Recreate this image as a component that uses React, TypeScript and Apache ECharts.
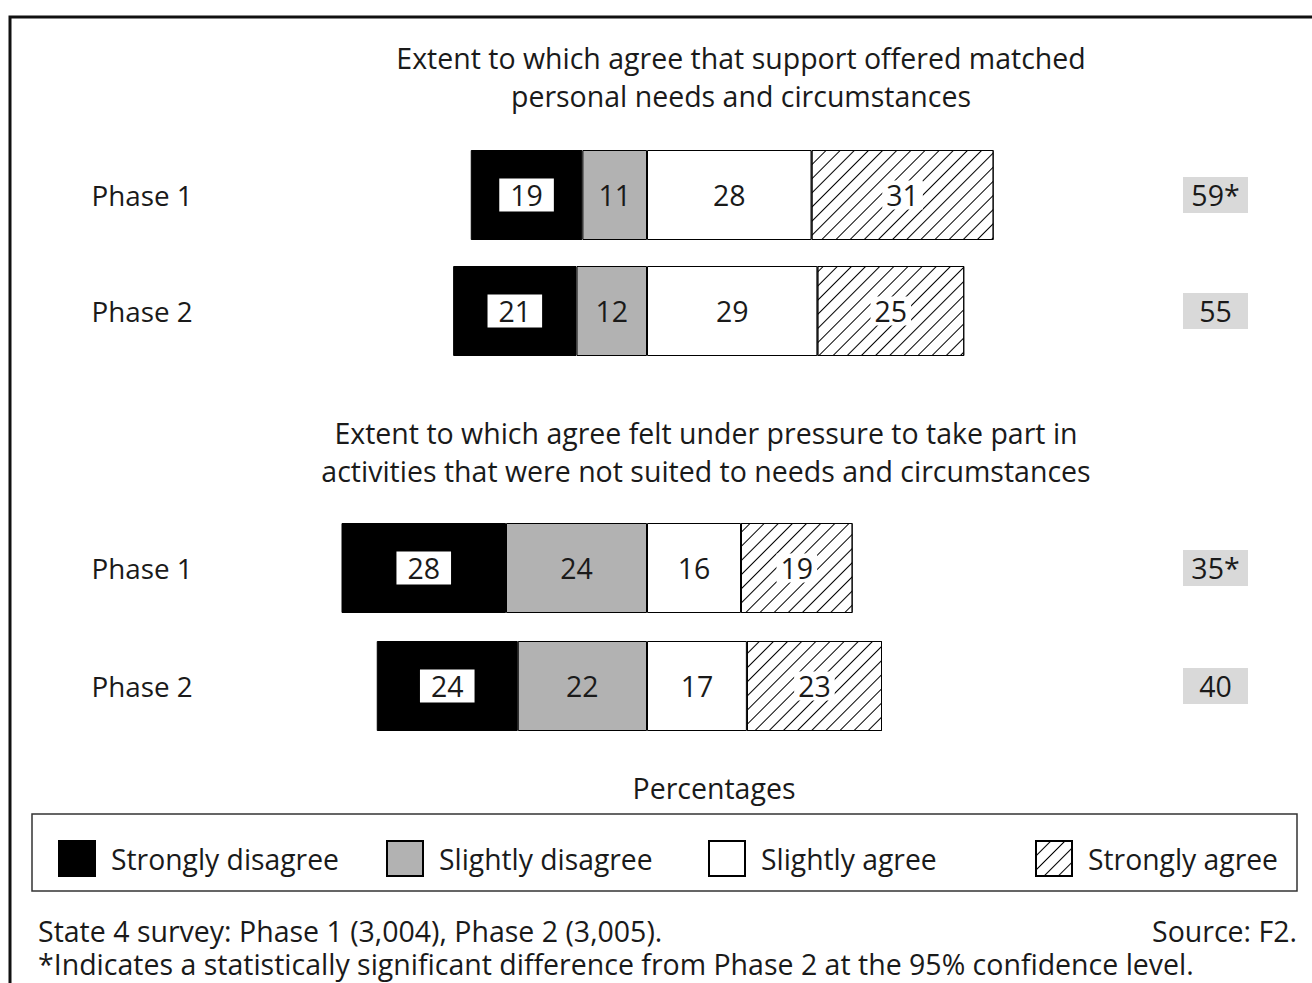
import React, { useEffect, useRef } from "react";
import * as echarts from "echarts";

const categories = ["Phase 1", "Phase 2"];
const seriesNames = ["Strongly disagree", "Slightly disagree", "Slightly agree", "Strongly agree"];

// Panel 1: support offered matched needs
const topStrongDis = [19, 21];
const topSlightDis = [11, 12];
const topSlightAgr = [28, 29];
const topStrongAgr = [31, 25];
const topNet = [59, 55];
const topSig = [true, false];

// Panel 2: felt under pressure
const botStrongDis = [28, 24];
const botSlightDis = [24, 22];
const botSlightAgr = [16, 17];
const botStrongAgr = [19, 23];
const botNet = [35, 40];
const botSig = [true, false];

const titleTop = "Extent to which agree that support offered matched\npersonal needs and circumstances";
const titleBot = "Extent to which agree felt under pressure to take part in\nactivities that were not suited to needs and circumstances";
const axisName = "Percentages";
const footLeft = "State 4 survey: Phase 1 (3,004), Phase 2 (3,005).";
const footRight = "Source: F2.";
const footNote = "*Indicates a statistically significant difference from Phase 2 at the 95% confidence level.";

const FONT = "Open Sans";
const FS_TITLE = 28.5;
const FS_LABEL = 28.5;
const FS_CAT = 27.8;
const FS_LEG = 28.3;
const FS_FOOT = 28.5;
const TXT = "#1a1a1a";

const hatch = {
  symbol: "rect",
  symbolSize: 1,
  color: "#000",
  dashArrayX: [1, 0],
  dashArrayY: [1, 9],
  rotation: -Math.PI / 4,
};

const styles: Record<string, any> = {
  "Strongly disagree": { color: "#000", borderColor: "#000", borderWidth: 1 },
  "Slightly disagree": { color: "#b2b2b2", borderColor: "#000", borderWidth: 1 },
  "Slightly agree": { color: "#fff", borderColor: "#000", borderWidth: 1 },
  "Strongly agree": { color: "#fff", borderColor: "#000", borderWidth: 1, decal: hatch },
};

const labelFor = (name: string) => {
  const base: any = {
    show: true,
    fontFamily: FONT,
    fontSize: FS_LABEL,
    color: TXT,
    formatter: (p: any) => String(Math.abs(p.value)),
  };
  if (name === "Strongly disagree") {
    return { ...base, backgroundColor: "#fff", padding: [3, 11, 1, 11] };
  }
  if (name === "Strongly agree") {
    return { ...base, backgroundColor: "#fff", padding: [0, 4, 0, 4] };
  }
  return base;
};

function buildSeries(gridIdx: number, sd: number[], sl: number[], sa: number[], sg: number[]) {
  const stack = "g" + gridIdx;
  const defs: [string, number[]][] = [
    ["Slightly disagree", sl.map((v) => -v)],
    ["Strongly disagree", sd.map((v) => -v)],
    ["Slightly agree", sa],
    ["Strongly agree", sg],
  ];
  return defs.map(([name, data]) => ({
    type: "bar",
    name,
    xAxisIndex: gridIdx,
    yAxisIndex: gridIdx * 2,
    stack,
    barWidth: 90,
    data,
    itemStyle: styles[name],
    label: labelFor(name),
    emphasis: { disabled: true },
  }));
}

const netLabels = (net: number[], sig: boolean[]) => net.map((v, i) => (sig[i] ? v + "*" : String(v)));

export default function App() {
  const ref = useRef<HTMLDivElement>(null);
  useEffect(() => {
    if (!ref.current) return;
    const chart = echarts.init(ref.current, null, { renderer: "svg" });
    const leftAxis = (grid: number) => ({
      type: "category",
      gridIndex: grid,
      data: categories,
      inverse: true,
      axisLine: { show: false },
      axisTick: { show: false },
      axisLabel: { align: "left", margin: 203, fontFamily: FONT, fontSize: FS_CAT, color: TXT },
    });
    const rightAxis = (grid: number, labels: string[]) => ({
      type: "category",
      gridIndex: grid,
      position: "right",
      data: labels,
      inverse: true,
      axisLine: { show: false },
      axisTick: { show: false },
      axisLabel: {
        align: "center",
        margin: 216,
        fontFamily: FONT,
        fontSize: FS_LABEL,
        color: TXT,
        backgroundColor: "#d9d9d9",
        width: 65,
        height: 36,
        lineHeight: 36,
      },
    });
    const valueAxis = (grid: number) => ({
      type: "value",
      gridIndex: grid,
      min: -60,
      max: 60,
      show: false,
    });
    const titleStyle = { fontFamily: FONT, fontSize: FS_TITLE, fontWeight: "normal", color: TXT, lineHeight: 38 };
    const legendPos = [58, 386, 708, 1035];
    chart.setOption({
      animation: false,
      backgroundColor: "#fff",
      title: [
        { text: titleTop, left: 741, top: 39, textAlign: "center", padding: 0, textStyle: titleStyle },
        { text: titleBot, left: 706, top: 414, textAlign: "center", padding: 0, textStyle: titleStyle },
        { text: axisName, left: 714, top: 769, textAlign: "center", padding: 0, textStyle: titleStyle },
      ],
      legend: seriesNames.map((n, i) => ({
        data: [n],
        left: legendPos[i],
        top: 840,
        padding: 0,
        icon: "rect",
        itemWidth: 36,
        itemHeight: 35,
        selectedMode: false,
        textStyle: { fontFamily: FONT, fontSize: FS_LEG, color: TXT, padding: [0, 0, 0, 11] },
      })),
      grid: [
        { left: 294.5, right: 312.5, top: 137, height: 232 },
        { left: 294.5, right: 312.5, top: 509, height: 236 },
      ],
      xAxis: [valueAxis(0), valueAxis(1)],
      yAxis: [
        leftAxis(0),
        rightAxis(0, netLabels(topNet, topSig)),
        leftAxis(1),
        rightAxis(1, netLabels(botNet, botSig)),
      ],
      series: [
        ...buildSeries(0, topStrongDis, topSlightDis, topSlightAgr, topStrongAgr),
        ...buildSeries(1, botStrongDis, botSlightDis, botSlightAgr, botStrongAgr),
      ],
      graphic: [
        {
          type: "rect",
          shape: { x: 10, y: 17, width: 1340, height: 1000 },
          style: { fill: "none", stroke: "#111", lineWidth: 3 },
          silent: true,
        },
        {
          type: "rect",
          shape: { x: 32, y: 814, width: 1265, height: 77 },
          style: { fill: "none", stroke: "#333", lineWidth: 1.5 },
          silent: true,
        },
        {
          type: "text",
          x: 38,
          y: 931,
          style: { text: footLeft, font: `${FS_FOOT}px "${FONT}"`, fill: TXT, textVerticalAlign: "middle" },
        },
        {
          type: "text",
          x: 1297,
          y: 931,
          style: { text: footRight, font: `${FS_FOOT}px "${FONT}"`, fill: TXT, textAlign: "right", textVerticalAlign: "middle" },
        },
        {
          type: "text",
          x: 38,
          y: 964,
          style: { text: footNote, font: `${FS_FOOT}px "${FONT}"`, fill: TXT, textVerticalAlign: "middle" },
        },
      ],
    });
    return () => chart.dispose();
  }, []);
  return <div ref={ref} style={{ position: "absolute", left: 0, top: 0, width: 1312, height: 983 }} />;
}
